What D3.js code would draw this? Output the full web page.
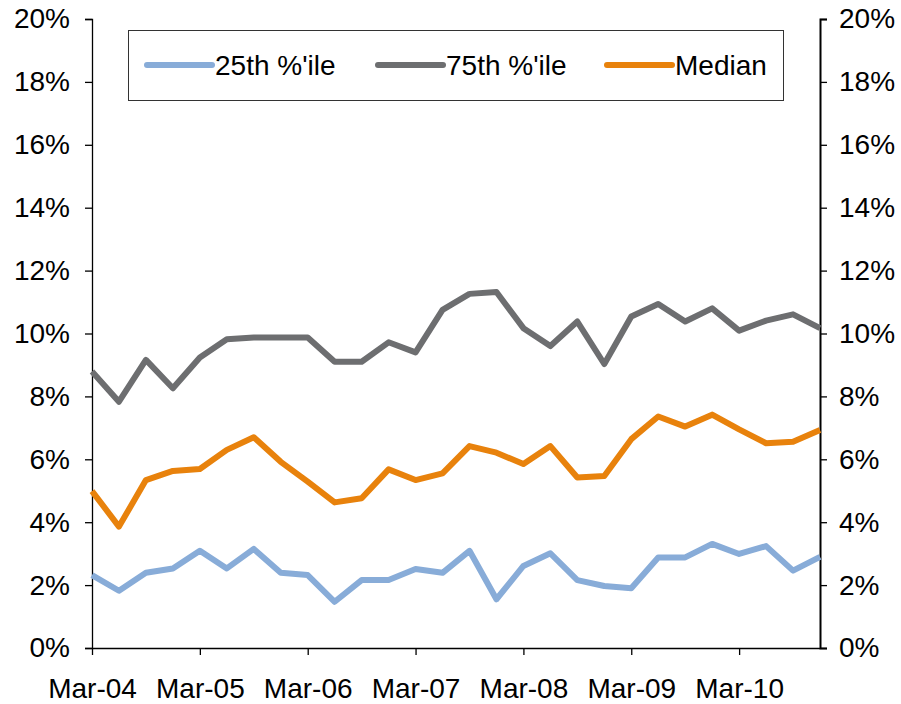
<!DOCTYPE html>
<html>
<head>
<meta charset="utf-8">
<script src="https://cdn.jsdelivr.net/npm/d3@7"></script>
<style>
  body { margin: 0; background: #fff; }
  svg text { font-family: "Liberation Sans", Arial, sans-serif; fill: #000; }
</style>
</head>
<body>
<div id="chart"></div>
<script>
// quarterly points Mar-04 .. Dec-10
const quarters = d3.range(28).map(i => i);
const yearLabels = ['Mar-04', 'Mar-05', 'Mar-06', 'Mar-07', 'Mar-08', 'Mar-09', 'Mar-10'];
const yTicks = [0, 2, 4, 6, 8, 10, 12, 14, 16, 18, 20];

const p25 = [2.32, 1.82, 2.39, 2.53, 3.09, 2.53, 3.15, 2.39, 2.32, 1.47, 2.16, 2.16, 2.51, 2.39,
             3.09, 1.55, 2.61, 3.01, 2.16, 1.97, 1.90, 2.88, 2.88, 3.31, 2.99, 3.24, 2.46, 2.90];
const p75 = [8.79, 7.83, 9.16, 8.26, 9.24, 9.82, 9.87, 9.87, 9.87, 9.10, 9.10, 9.72, 9.40, 10.75,
             11.26, 11.32, 10.17, 9.60, 10.38, 9.03, 10.54, 10.94, 10.38, 10.80, 10.09, 10.41, 10.61, 10.17];
const median = [4.99, 3.86, 5.34, 5.63, 5.69, 6.30, 6.70, 5.92, 5.29, 4.63, 4.76, 5.68, 5.34, 5.55,
                6.42, 6.21, 5.85, 6.42, 5.42, 5.47, 6.64, 7.36, 7.04, 7.42, 6.95, 6.51, 6.56, 6.93];

const series = [
  { name: "25th %'ile", values: p25, color: '#88acd8' },
  { name: "75th %'ile", values: p75, color: '#6d6e70' },
  { name: 'Median', values: median, color: '#e8820c' }
];

const W = 901, H = 704;
const plotLeft = 92, plotRight = 820, plotTop = 19, plotBottom = 648;
const fontSize = 28;

const svg = d3.select('#chart').append('svg')
  .attr('width', W).attr('height', H);

const x = d3.scaleLinear().domain([0, 27]).range([plotLeft, plotRight]);
const y = d3.scaleLinear().domain([0, 20]).range([plotBottom, plotTop]);

// left axis
const leftAxis = svg.append('g')
  .attr('transform', `translate(${plotLeft},0)`)
  .call(d3.axisLeft(y).tickValues(yTicks).tickFormat(d => d + '%').tickSize(7).tickPadding(15));

// right axis
const rightAxis = svg.append('g')
  .attr('transform', `translate(${plotRight},0)`)
  .call(d3.axisRight(y).tickValues(yTicks).tickFormat(d => d + '%').tickSize(7).tickPadding(12));

// bottom axis, a tick every 4 quarters
const xAxis = svg.append('g')
  .attr('transform', `translate(0,${plotBottom})`)
  .call(d3.axisBottom(x).tickValues(d3.range(0, 28, 4))
    .tickFormat((d, i) => yearLabels[i]).tickSize(7).tickPadding(23));

[leftAxis, rightAxis, xAxis].forEach(g => {
  g.select('.domain').attr('stroke', '#000').attr('stroke-width', 1.3);
  g.selectAll('.tick line').attr('stroke', '#000').attr('stroke-width', 1.3);
  g.selectAll('.tick text').attr('font-size', fontSize).attr('fill', '#000');
});
xAxis.select('.domain').attr('d', `M${plotLeft},0.5H${plotRight}`);
rightAxis.select('.domain').attr('stroke-width', 2);

// lines
const line = d3.line()
  .x((d, i) => x(quarters[i]))
  .y(d => y(d));

svg.append('g').selectAll('path')
  .data([series[2], series[1], series[0]])
  .enter()
  .append('path')
  .attr('d', d => line(d.values))
  .attr('fill', 'none')
  .attr('stroke', d => d.color)
  .attr('stroke-width', 6)
  .attr('stroke-linejoin', 'round');

// legend
const legend = svg.append('g');
legend.append('rect')
  .attr('x', 128.5).attr('y', 30.5)
  .attr('width', 655).attr('height', 70)
  .attr('fill', '#fff').attr('stroke', '#333').attr('stroke-width', 1);

const legendX = [147, 378, 607];
series.forEach((s, i) => {
  const g = legend.append('g').attr('transform', `translate(${legendX[i]},65)`);
  g.append('line')
    .attr('x1', 0).attr('x2', 65)
    .attr('stroke', s.color).attr('stroke-width', 6).attr('stroke-linecap', 'round');
  g.append('text')
    .attr('x', 68).attr('y', 10)
    .attr('font-size', fontSize)
    .text(s.name);
});
</script>
</body>
</html>
